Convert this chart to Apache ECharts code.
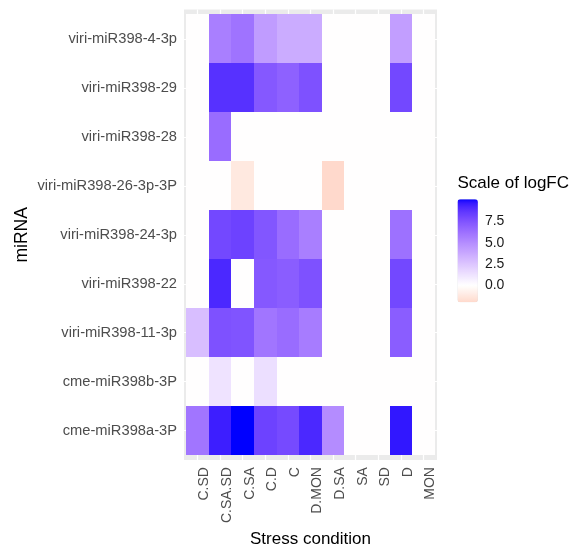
<!DOCTYPE html>
<html>
<head>
<meta charset="utf-8">
<script src="https://cdn.jsdelivr.net/npm/echarts@6/dist/echarts.min.js"></script>
<style>
  html, body { margin: 0; padding: 0; background: #fff; }
  #chart { width: 582px; height: 553px; }
</style>
</head>
<body>
<div id="chart"></div>
<script>
// Stress conditions along the x axis
const conditions = ['C.SD', 'C.SA.SD', 'C.SA', 'C.D', 'C', 'D.MON', 'D.SA', 'SA', 'SD', 'D', 'MON'];

// miRNAs along the y axis, bottom to top
const mirnas = [
  'cme-miR398a-3P', 'cme-miR398b-3P', 'viri-miR398-11-3p', 'viri-miR398-22',
  'viri-miR398-24-3p', 'viri-miR398-26-3p-3P', 'viri-miR398-28', 'viri-miR398-29',
  'viri-miR398-4-3p'
];

// logFC per miRNA, one value per stress condition (same order as `conditions`)
const logfc_cme_miR398a_3P    = [6.0, 9.5, 10.1, 8.2, 7.9, 9.2, 5.0, 0, 0, 9.7, 0];
const logfc_cme_miR398b_3P    = [0, 1.2, 0, 1.4, 0, 0, 0, 0, 0, 0, 0];
const logfc_viri_miR398_11_3p = [2.8, 7.6, 7.5, 6.0, 6.4, 5.7, 0, 0, 0, 7.1, 0];
const logfc_viri_miR398_22    = [0, 9.2, 0, 7.3, 7.1, 7.6, 0, 0, 0, 8.0, 0];
const logfc_viri_miR398_24_3p = [0, 8.0, 8.2, 7.4, 6.4, 5.6, 0, 0, 0, 6.2, 0];
const logfc_viri_miR398_26_3p = [0, 0, -1.2, 0, 0, 0, -2.0, 0, 0, 0, 0];
const logfc_viri_miR398_28    = [0, 6.4, 0, 0, 0, 0, 0, 0, 0, 0, 0];
const logfc_viri_miR398_29    = [0, 8.9, 8.9, 7.3, 6.9, 7.6, 0, 0, 0, 8.0, 0];
const logfc_viri_miR398_4_3p  = [0, 5.6, 6.1, 4.3, 3.6, 3.6, 0, 0, 0, 4.2, 0];

const rows = [
  logfc_cme_miR398a_3P, logfc_cme_miR398b_3P, logfc_viri_miR398_11_3p, logfc_viri_miR398_22,
  logfc_viri_miR398_24_3p, logfc_viri_miR398_26_3p, logfc_viri_miR398_28, logfc_viri_miR398_29,
  logfc_viri_miR398_4_3p
];

// Colour bar ticks
const legendTicks = [0, 2.5, 5, 7.5];
const scaleMin = -2.0;
const scaleMax = 10.1;

// ---- diverging colour scale (red - white - blue, midpoint 0), blended in CIELAB ----
function toLin(c) { c /= 255; return c <= 0.04045 ? c / 12.92 : Math.pow((c + 0.055) / 1.055, 2.4); }
function fromLin(c) {
  c = c <= 0.0031308 ? 12.92 * c : 1.055 * Math.pow(c, 1 / 2.4) - 0.055;
  return Math.max(0, Math.min(255, Math.round(c * 255)));
}
function hexToLab(hex) {
  const r = toLin(parseInt(hex.slice(1, 3), 16));
  const g = toLin(parseInt(hex.slice(3, 5), 16));
  const b = toLin(parseInt(hex.slice(5, 7), 16));
  const X = (0.4124 * r + 0.3576 * g + 0.1805 * b) / 0.95047;
  const Y = (0.2126 * r + 0.7152 * g + 0.0722 * b);
  const Z = (0.0193 * r + 0.1192 * g + 0.9505 * b) / 1.08883;
  const f = t => t > 0.008856 ? Math.cbrt(t) : 7.787 * t + 16 / 116;
  const fx = f(X), fy = f(Y), fz = f(Z);
  return [116 * fy - 16, 500 * (fx - fy), 200 * (fy - fz)];
}
function labToHex(L, a, b) {
  const fy = (L + 16) / 116, fx = fy + a / 500, fz = fy - b / 200;
  const inv = t => t * t * t > 0.008856 ? t * t * t : (t - 16 / 116) / 7.787;
  const X = inv(fx) * 0.95047, Y = inv(fy), Z = inv(fz) * 1.08883;
  const r = 3.2406 * X - 1.5372 * Y - 0.4986 * Z;
  const g = -0.9689 * X + 1.8758 * Y + 0.0415 * Z;
  const bl = 0.0557 * X - 0.2040 * Y + 1.0570 * Z;
  return '#' + [r, g, bl].map(c => fromLin(c).toString(16).padStart(2, '0')).join('');
}
const LOW = hexToLab('#FF0000'), MID = hexToLab('#FFFFFF'), HIGH = hexToLab('#0000FF');
function mixLab(p, q, t) { return labToHex(p[0] + (q[0] - p[0]) * t, p[1] + (q[1] - p[1]) * t, p[2] + (q[2] - p[2]) * t); }
function fillFor(v) {
  const ext = Math.max(Math.abs(scaleMin), Math.abs(scaleMax));
  const p = v / (2 * ext) + 0.5;
  return p < 0.5 ? mixLab(MID, LOW, (0.5 - p) * 2) : mixLab(MID, HIGH, (p - 0.5) * 2);
}
const nStops = 80;
const colorStops = [];
for (let i = 0; i <= nStops; i++) colorStops.push(fillFor(scaleMin + (scaleMax - scaleMin) * i / nStops));

// ---- cells ----
const cells = [];
rows.forEach((vals, yi) => vals.forEach((v, xi) => cells.push([xi, yi, v])));
const xIdx = conditions.map((_, i) => i);
const yIdx = mirnas.map((_, i) => i);

const FONT = "'Liberation Sans', Arial, sans-serif";
const chart = echarts.init(document.getElementById('chart'), null, { renderer: 'canvas' });

chart.setOption({
  animation: false,
  backgroundColor: '#ffffff',
  textStyle: { fontFamily: FONT },
  title: {
    text: 'Scale of logFC', left: 457.5, top: 174.5, padding: 0,
    textStyle: { fontFamily: FONT, fontSize: 17, fontWeight: 'normal', color: '#000000' }
  },
  grid: [
    { left: 184, top: 9.5, width: 253, height: 454, show: true, backgroundColor: '#EBEBEB', borderWidth: 0 },
    { left: 457.5, top: 199.3, width: 20.4, height: 103 }
  ],
  xAxis: [
    {
      type: 'value', gridIndex: 0, min: -0.6, max: 10.6,
      axisLine: { show: false },
      axisTick: { customValues: xIdx, length: 3.5, lineStyle: { color: '#333333', width: 1 } },
      axisLabel: {
        customValues: xIdx, formatter: v => conditions[v], rotate: 90, verticalAlign: 'top',
        margin: 7, color: '#4D4D4D', fontSize: 14, fontFamily: FONT
      },
      splitLine: { show: true, lineStyle: { color: '#FFFFFF', width: 1.2 } },
      name: 'Stress condition', nameLocation: 'middle', nameGap: 67,
      nameTextStyle: { fontSize: 17, color: '#000000', fontFamily: FONT }
    },
    { type: 'category', gridIndex: 1, show: false, data: ['bar'] }
  ],
  yAxis: [
    {
      type: 'value', gridIndex: 0, min: -0.6, max: 8.6,
      axisLine: { show: false },
      axisTick: { customValues: yIdx, length: 3.5, lineStyle: { color: '#333333', width: 1 } },
      axisLabel: {
        customValues: yIdx, formatter: v => mirnas[v], margin: 7,
        color: '#4D4D4D', fontSize: 14.7, fontFamily: FONT
      },
      splitLine: { show: true, lineStyle: { color: '#FFFFFF', width: 1.2 } },
      name: 'miRNA', nameLocation: 'middle', nameGap: 153,
      nameTextStyle: { fontSize: 17.5, color: '#000000', fontFamily: FONT }
    },
    {
      type: 'value', gridIndex: 1, position: 'left', min: scaleMin, max: scaleMax, z: 10,
      axisLine: { show: false }, splitLine: { show: false },
      axisTick: { inside: true, customValues: legendTicks, length: 4, lineStyle: { color: '#FFFFFF', width: 1 } },
      axisLabel: { show: false }
    },
    {
      type: 'value', gridIndex: 1, position: 'right', min: scaleMin, max: scaleMax, z: 10,
      axisLine: { show: false }, splitLine: { show: false },
      axisTick: { inside: true, customValues: legendTicks, length: 4, lineStyle: { color: '#FFFFFF', width: 1 } },
      axisLabel: {
        customValues: legendTicks, formatter: v => v.toFixed(1), margin: 7,
        color: '#1A1A1A', fontSize: 14, fontFamily: FONT
      }
    }
  ],
  visualMap: {
    type: 'continuous', seriesIndex: 0, dimension: 2,
    min: scaleMin, max: scaleMax, calculable: false, hoverLink: false,
    orient: 'vertical', left: 457.5, top: 199.3, padding: 0,
    itemWidth: 20.4, itemHeight: 103,
    inRange: { color: colorStops }
  },
  series: [
    {
      type: 'custom', coordinateSystem: 'cartesian2d', xAxisIndex: 0, yAxisIndex: 0,
      data: cells, encode: { x: 0, y: 1 },
      renderItem: function (params, api) {
        const x = api.value(0), y = api.value(1);
        const p0 = api.coord([x - 0.5, y + 0.5]);
        const p1 = api.coord([x + 0.5, y - 0.5]);
        // snap tile edges to whole pixels so neighbouring tiles meet without seams
        const x0 = Math.round(p0[0]), y0 = Math.round(p0[1]);
        const x1 = Math.round(p1[0]), y1 = Math.round(p1[1]);
        return {
          type: 'rect',
          shape: { x: x0, y: y0, width: x1 - x0, height: y1 - y0 },
          style: { fill: api.visual('color') }
        };
      }
    }
  ]
});
</script>
</body>
</html>
